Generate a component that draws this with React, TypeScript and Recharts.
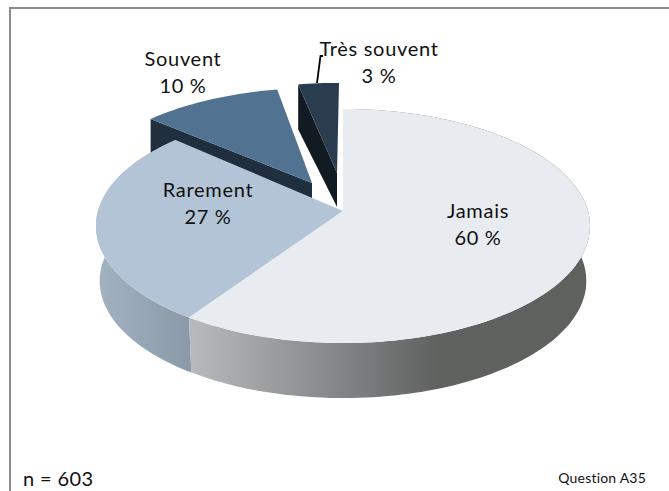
import { PieChart, Pie } from "recharts"

const categories = ["Très souvent", "Souvent", "Rarement", "Jamais"]
const percents = [3.0, 10.3, 27.2, 59.5]

const chartData = categories.map((name, i) => ({ name, value: percents[i] }))

const WIDTH = 669
const HEIGHT = 491

// the 3D look: a flat circle seen in perspective
const TILT = 0.47
const PERSPECTIVE = 0.128
const FRONT_DEPTH = 55
const BOTTOM_SHRINK = 0.985

// per slice, same order as categories
const topColors = ["#2a3d4e", "#527291", "#b3c4d6", "#e8ebf0"]
const sideFills = ["#131b22", "#1f2f3d", "url(#wallRarement)", "url(#wallJamais)"]
const arcShift = [[-4, -26], [-25, -21], [0, 0], [0, 0]]
const apexShift = [[-6, -38], [-31, -28], [0, 0], [0, 0]]
const radialDepth = [[45, 34], [45, 45], null, null]
const labelSpots = [[379, 56], [183, 66], [208, 197], [478, 218]]

function project(theta: number, cx: number, cy: number, radius: number) {
  const rad = (theta * Math.PI) / 180
  const u = Math.sin(rad)
  const v = -Math.cos(rad)
  const w = 1 - PERSPECTIVE * v
  return [cx + (radius * u) / w, cy + (radius * TILT * v) / w]
}

function toPath(points: number[][]) {
  return "M" + points.map(p => `${p[0].toFixed(1)},${p[1].toFixed(1)}`).join("L") + "Z"
}

function Slice3D(props: any) {
  const { cx, cy, outerRadius, startAngle, endAngle, index } = props
  const from = 450 - endAngle
  const to = 450 - startAngle
  const [adx, ady] = arcShift[index]
  const [pdx, pdy] = apexShift[index]

  const arc: number[][] = []
  const steps = Math.max(2, Math.ceil((to - from) / 1.5))
  for (let i = 0; i <= steps; i++) {
    const p = project(from + ((to - from) * i) / steps, cx, cy, outerRadius)
    arc.push([p[0] + adx, p[1] + ady])
  }
  const apex = [cx + pdx, cy + pdy]

  const depths = radialDepth[index]
  let side = null
  if (depths) {
    // exploded slices only show the cut face on their left
    side = [arc[0], [arc[0][0], arc[0][1] + depths[0]], [apex[0], apex[1] + depths[1]], apex]
  } else {
    const bottom = arc.map(p => [cx + (p[0] - cx) * BOTTOM_SHRINK, p[1] + FRONT_DEPTH]).reverse()
    side = [...arc, ...bottom]
  }

  return (
    <g>
      <path d={toPath(side)} fill={sideFills[index]} />
      <path d={toPath([apex, ...arc])} fill={topColors[index]} />
    </g>
  )
}

function SliceLabel(props: any) {
  const { index } = props
  const [x, y] = labelSpots[index]
  const common = {
    x,
    textAnchor: "middle" as const,
    fontFamily: "Lato, sans-serif",
    fontSize: 20,
    letterSpacing: 0.7,
    fill: "#111111",
  }
  return (
    <g>
      {index === 0 && (
        <polyline points="317,83 320.5,56 323,56" fill="none" stroke="#000000" strokeWidth={1.8} />
      )}
      <text {...common} y={y}>{categories[index]}</text>
      <text {...common} y={y + 27}>{Math.round(percents[index])} %</text>
    </g>
  )
}

export default function App() {
  return (
    <div style={{ position: "absolute", left: 0, top: 0, width: WIDTH, height: HEIGHT, background: "#ffffff", overflow: "hidden" }}>
      <div style={{ position: "absolute", left: 9, top: 7, right: 0, bottom: 0, borderLeft: "2px solid #8c8c8c", borderTop: "2px solid #8c8c8c" }} />
      <div style={{ position: "absolute", left: 0, top: 0 }}>
        <PieChart width={WIDTH} height={HEIGHT} margin={{ top: 0, right: 0, bottom: 0, left: 0 }}>
          <defs>
            <linearGradient id="wallJamais" gradientUnits="userSpaceOnUse" x1={188} y1={0} x2={590} y2={0}>
              <stop offset="0" stopColor="#b8bbbd" />
              <stop offset="0.2" stopColor="#9d9ea0" />
              <stop offset="0.42" stopColor="#7e7f81" />
              <stop offset="0.62" stopColor="#606260" />
              <stop offset="1" stopColor="#5f615f" />
            </linearGradient>
            <linearGradient id="wallRarement" gradientUnits="userSpaceOnUse" x1={98} y1={0} x2={188} y2={0}>
              <stop offset="0" stopColor="#a3b2c1" />
              <stop offset="1" stopColor="#8a9aa8" />
            </linearGradient>
          </defs>
          <Pie
            data={chartData}
            dataKey="value"
            nameKey="name"
            cx={343}
            cy={211}
            outerRadius={245}
            startAngle={90}
            endAngle={450}
            paddingAngle={0}
            stroke="none"
            shape={Slice3D}
            label={SliceLabel}
            labelLine={false}
            isAnimationActive={false}
          />
          <text x={23} y={486} fontFamily="Lato, sans-serif" fontSize={20} fill="#111111" letterSpacing={0.4}>n = 603</text>
          <text x={646} y={483} textAnchor="end" fontFamily="Lato, sans-serif" fontSize={14} fill="#111111" letterSpacing={0.2}>Question A35</text>
        </PieChart>
      </div>
    </div>
  )
}
